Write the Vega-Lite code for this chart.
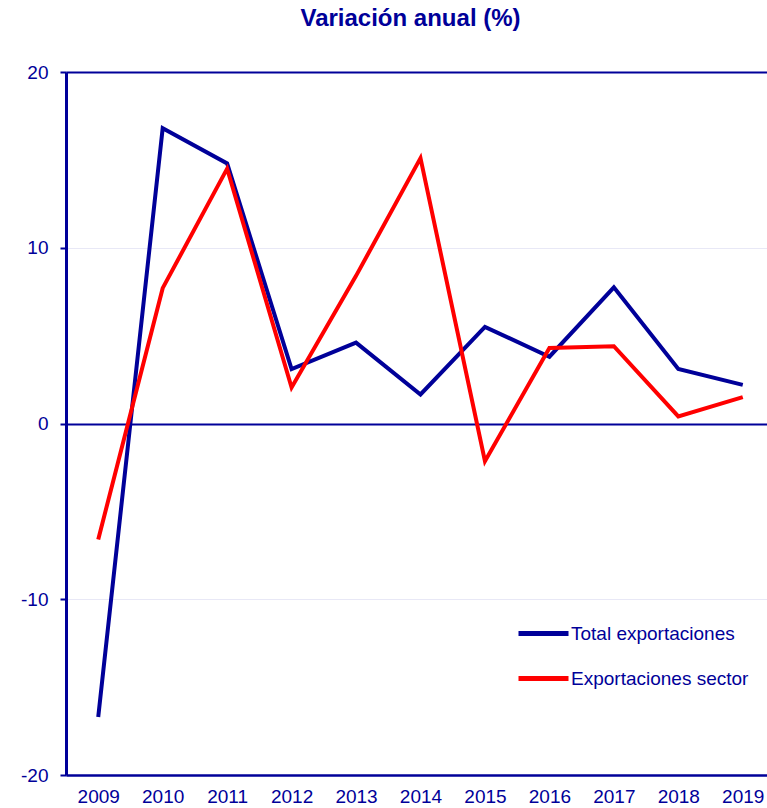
{
  "$schema": "https://vega.github.io/schema/vega-lite/v6.json",
  "width": 701,
  "height": 703,
  "autosize": {"type": "none"},
  "padding": {"left": 66, "top": 72, "right": 0, "bottom": 33},
  "background": "white",
  "title": {"text": "Variación anual (%)", "font": "Liberation Sans", "fontSize": 24, "fontWeight": "bold", "color": "#000099", "anchor": "middle", "offset": 32, "dx": -6},
  "config": {"view": {"stroke": null}, "font": "Liberation Sans"},
  "data": {"values": [
    {"year": 2009, "serie": "Total exportaciones", "v": -16.7},
    {"year": 2010, "serie": "Total exportaciones", "v": 16.8},
    {"year": 2011, "serie": "Total exportaciones", "v": 14.8},
    {"year": 2012, "serie": "Total exportaciones", "v": 3.1},
    {"year": 2013, "serie": "Total exportaciones", "v": 4.6},
    {"year": 2014, "serie": "Total exportaciones", "v": 1.65},
    {"year": 2015, "serie": "Total exportaciones", "v": 5.5},
    {"year": 2016, "serie": "Total exportaciones", "v": 3.8},
    {"year": 2017, "serie": "Total exportaciones", "v": 7.75},
    {"year": 2018, "serie": "Total exportaciones", "v": 3.1},
    {"year": 2019, "serie": "Total exportaciones", "v": 2.2},
    {"year": 2009, "serie": "Exportaciones sector", "v": -6.6},
    {"year": 2010, "serie": "Exportaciones sector", "v": 7.7},
    {"year": 2011, "serie": "Exportaciones sector", "v": 14.5},
    {"year": 2012, "serie": "Exportaciones sector", "v": 2.05},
    {"year": 2013, "serie": "Exportaciones sector", "v": 8.4},
    {"year": 2014, "serie": "Exportaciones sector", "v": 15.1},
    {"year": 2015, "serie": "Exportaciones sector", "v": -2.15},
    {"year": 2016, "serie": "Exportaciones sector", "v": 4.3},
    {"year": 2017, "serie": "Exportaciones sector", "v": 4.4},
    {"year": 2018, "serie": "Exportaciones sector", "v": 0.4},
    {"year": 2019, "serie": "Exportaciones sector", "v": 1.5}
  ]},
  "mark": {"type": "line", "strokeWidth": 4, "strokeJoin": "miter", "clip": false},
  "encoding": {
    "x": {"field": "year", "type": "quantitative",
      "scale": {"domain": [2008.5, 2019.376], "nice": false, "zero": false},
      "axis": {"title": null, "values": [2009,2010,2011,2012,2013,2014,2015,2016,2017,2018,2019], "format": "d", "grid": false, "ticks": false, "labelPadding": 12, "labelFontSize": 19, "labelColor": "#000099", "domainColor": "#000099", "domainWidth": 2.5, "labelFont": "Liberation Sans"}},
    "y": {"field": "v", "type": "quantitative",
      "scale": {"domain": [-20, 20], "nice": false},
      "axis": {"title": null, "values": [-20, -10, 0, 10, 20], "labelExpr": "'' + datum.value", "tickSize": 6, "tickColor": "#000099", "tickWidth": 2, "labelPadding": 12, "labelFontSize": 19, "labelColor": "#000099", "labelFont": "Liberation Sans", "domainColor": "#000099", "domainWidth": 3,
        "grid": true,
        "gridColor": {"condition": {"test": "datum.value === 0 || datum.value === 20", "value": "#000099"}, "value": "#e8e8f6"},
        "gridWidth": {"condition": {"test": "datum.value === 0 || datum.value === 20", "value": 2}, "value": 1}}},
    "color": {"field": "serie", "type": "nominal",
      "scale": {"domain": ["Total exportaciones", "Exportaciones sector"], "range": ["#000099", "#ff0000"]},
      "legend": {"title": null, "orient": "none", "legendX": 450, "legendY": 534, "symbolType": "stroke", "symbolSize": 2500, "symbolStrokeWidth": 5, "labelFontSize": 19, "labelLimit": 400, "labelColor": "#000099", "labelFont": "Liberation Sans", "labelOffset": 0, "rowPadding": 7}}
  }
}
